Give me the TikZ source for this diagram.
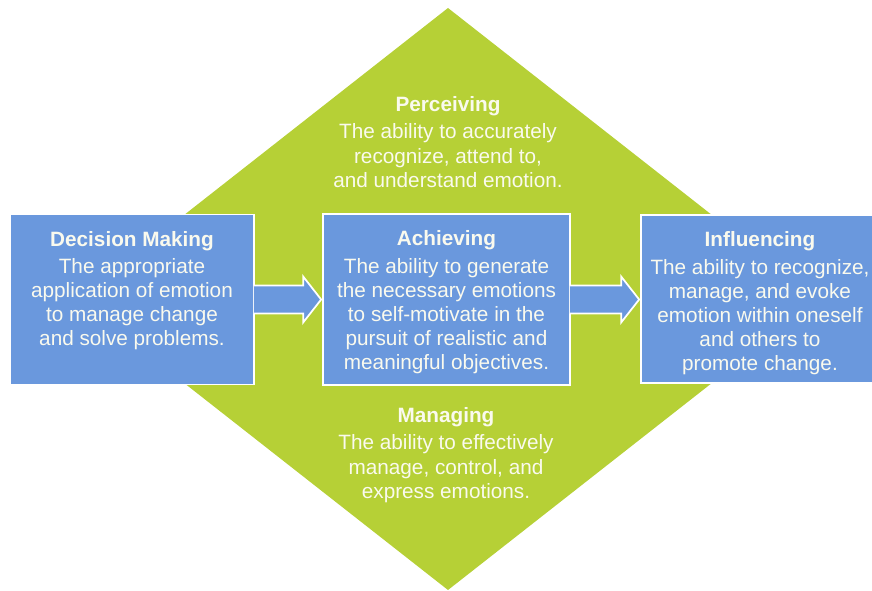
\documentclass[tikz,border=0pt]{standalone}
\usepackage{fontspec}
\setmainfont{Liberation Sans}
\usetikzlibrary{positioning,calc}
\definecolor{eiblue}{RGB}{106,152,221}
\definecolor{eigreen}{RGB}{182,208,54}
\definecolor{eitext}{RGB}{250,250,238}
\begin{document}
\begin{tikzpicture}
	[x=0.02cm,y=-0.02cm,
	box/.style={rectangle,draw=white,fill=eiblue,line width=1pt,inner sep=0pt},
	blurb/.style={align=center,text=eitext,inner sep=0pt,anchor=north,
font=\fontsize{11.8}{13.7}\selectfont},
	flow/.style={fill=eiblue,draw=white,line width=1pt,line join=miter}]
	\useasboundingbox (0,0) rectangle (872,591);
	% the green diamond behind
	\coordinate (top) at (448,8);
	\coordinate (right) at (819,299);
	\coordinate (bottom) at (448,590);
	\coordinate (left) at (77,299);
	\fill[eigreen] (top) -- (right) -- (bottom) -- (left) -- cycle;
	% the three boxes
	\node[box,minimum width=4.88cm,minimum height=3.4cm] (dm) at (132,299.5) {};
	\node[box,minimum width=4.94cm,minimum height=3.42cm] (ach) at (446.5,299.5) {};
	\node[box,minimum width=4.76cm,minimum height=3.36cm] (inf) at (760,299) {};
	% block arrows
	\foreach \from/\to in {dm/ach,ach/inf}
		\filldraw[flow] ($(\from.east)+(-1,-14)$) -- ($(\from.east -| \to.west)+(-19,-14)$)
			-- ($(\from.east -| \to.west)+(-19,-23)$) -- ($(\from.east -| \to.west)+(-1,0)$)
			-- ($(\from.east -| \to.west)+(-19,23)$) -- ($(\from.east -| \to.west)+(-19,14)$)
			-- ($(\from.east)+(-1,14)$);
	% texts
	\node[blurb] (dmtext) at ($(dm.north)+(0,17)$)
		{\textbf{Decision Making}\\[2pt] The appropriate\\ application of emotion\\
		to manage change\\ and solve problems.};
	\node[blurb] (achtext) at ($(ach.north)+(0,17)$)
		{\textbf{Achieving}\\[2pt] The ability to generate\\ the necessary emotions\\
		to self-motivate in the\\ pursuit of realistic and\\ meaningful objectives.};
	\node[blurb] (inftext) at ($(inf.north)+(0,17)$)
		{\textbf{Influencing}\\[2pt] The ability to recognize,\\ manage, and evoke\\
		emotion within oneself\\ and others to\\ promote change.};
	\node[blurb] (perc) at (448,96)
		{\textbf{Perceiving}\\[2pt] The ability to accurately\\ recognize, attend to,\\
		and understand emotion.};
	\node[blurb] (man) at (446,407)
		{\textbf{Managing}\\[2pt] The ability to effectively\\ manage, control, and\\
		express emotions.};
\end{tikzpicture}
\end{document}
